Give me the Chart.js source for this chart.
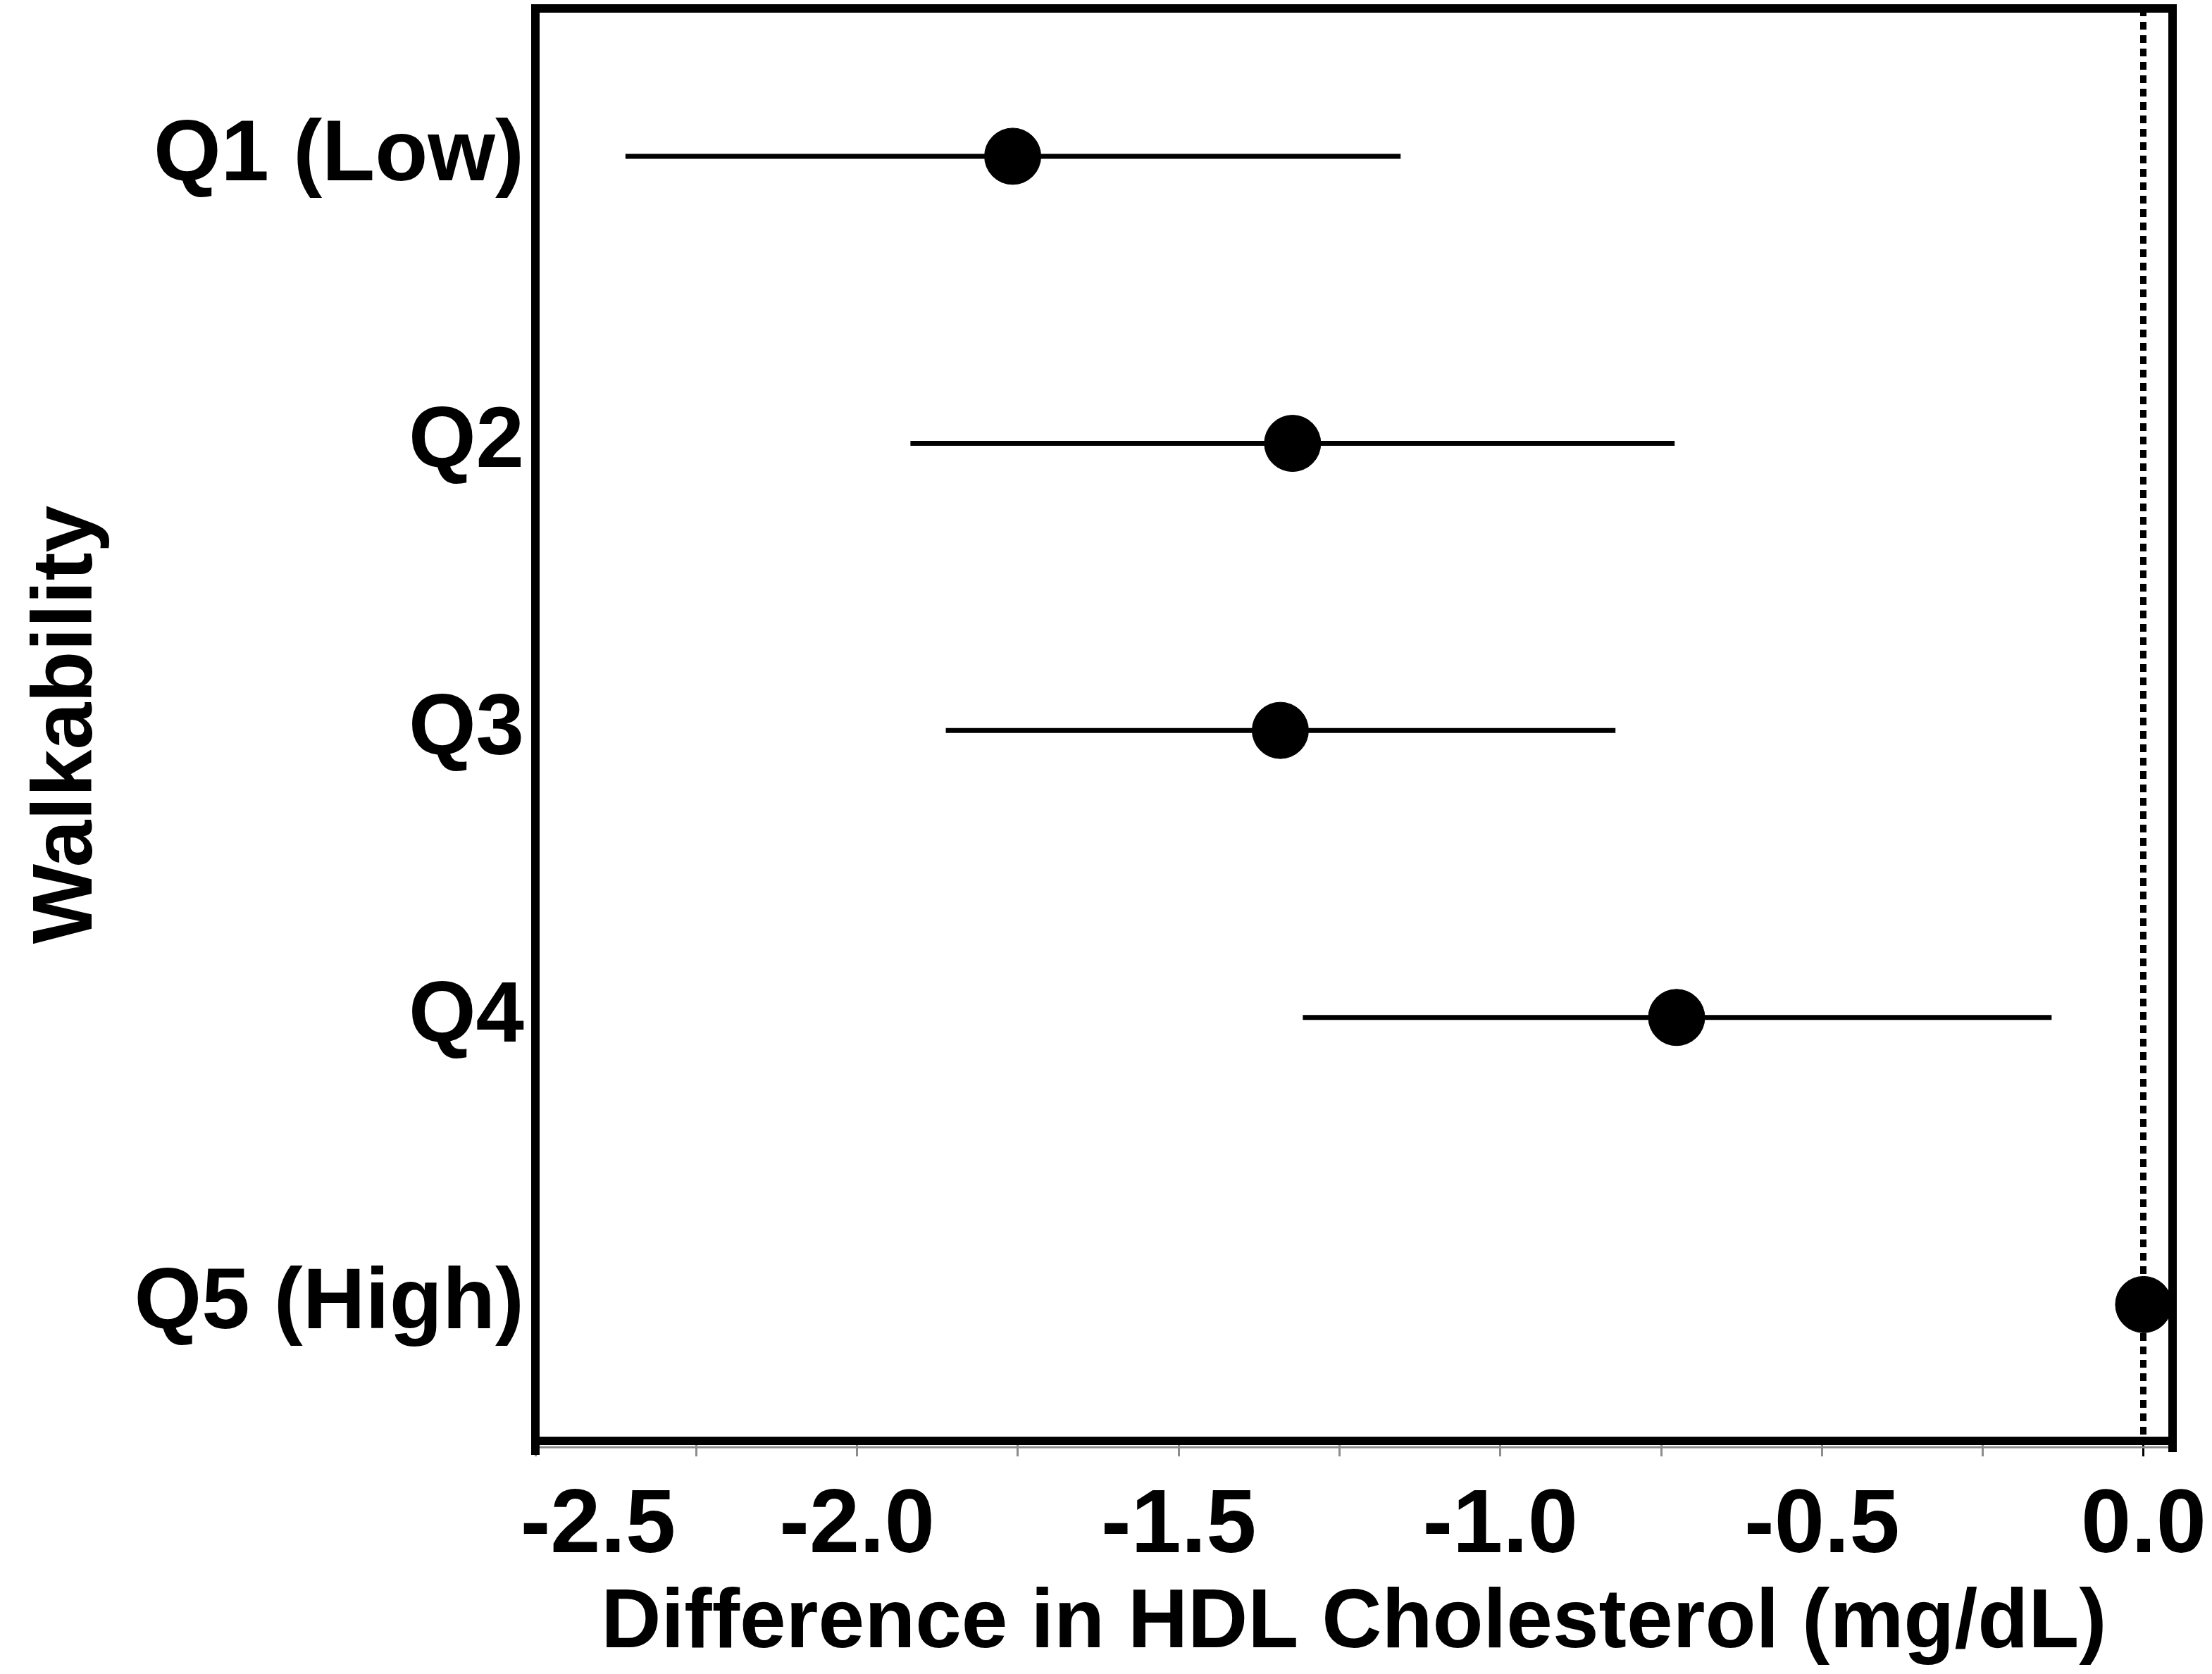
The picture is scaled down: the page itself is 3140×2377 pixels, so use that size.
<!DOCTYPE html>
<html>
<head>
<meta charset="utf-8">
<script src="https://cdn.jsdelivr.net/npm/chart.js@4"></script>
<style>
    html, body { margin: 0; padding: 0; background: #fff; }
    #wrap { width: 3140px; height: 2377px; }
</style>
</head>
<body>
<div id="wrap"><canvas id="walk-chart"></canvas></div>
<script>
// Walkability quintiles, top to bottom, difference in HDL vs Q5 (reference)
let categories = ["Q1 (Low)", "Q2", "Q3", "Q4", "Q5 (High)"];
let estimates = [-1.758, -1.323, -1.342, -0.726, 0];
let lowerCI = [-2.360, -1.917, -1.862, -1.307, null];
let upperCI = [-1.155, -0.729, -0.821, -0.143, null];
let xTicks = [-2.5, -2.25, -2.0, -1.75, -1.5, -1.25, -1.0, -0.75, -0.5, -0.25, 0];

let datasets = [];
for (let i = 0; i < categories.length; i++) {
    if (lowerCI[i] === null) continue;
    datasets.push({
        type: 'line',
        data: [{ x: lowerCI[i], y: i }, { x: upperCI[i], y: i }],
        borderColor: '#000',
        borderWidth: 7,
        pointRadius: 0,
        fill: false
    });
}
datasets.push({
    type: 'scatter',
    data: estimates.map(function (v, i) { return { x: v, y: i }; }),
    backgroundColor: '#000',
    borderColor: '#000',
    pointRadius: 40,
    pointHoverRadius: 40
});

// heavy box round the plot + grey baseline under it
let framePlugin = {
    id: 'frame',
    afterDraw: function (chart) {
        let ctx = chart.ctx;
        let a = chart.chartArea;
        ctx.save();
        ctx.strokeStyle = '#8c8c8c';
        ctx.lineWidth = 3;
        ctx.beginPath();
        ctx.moveTo(a.left, a.bottom + 9);
        ctx.lineTo(a.right, a.bottom + 9);
        ctx.stroke();
        ctx.strokeStyle = '#000';
        ctx.lineWidth = 12;
        ctx.strokeRect(a.left, a.top, a.right - a.left, a.bottom - a.top);
        ctx.beginPath();
        ctx.moveTo(a.left, a.bottom);
        ctx.lineTo(a.left, a.bottom + 20);
        ctx.moveTo(a.right, a.bottom);
        ctx.lineTo(a.right, a.bottom + 16);
        ctx.stroke();
        ctx.restore();
    }
};

let font = "'Liberation Sans', Arial, Helvetica, sans-serif";

new Chart(document.getElementById("walk-chart"), {
    type: 'scatter',
    data: { datasets: datasets },
    plugins: [framePlugin],
    options: {
        responsive: true,
        maintainAspectRatio: false,
        animation: false,
        layout: { autoPadding: false, padding: { top: 12, right: 56, bottom: 0, left: 0 } },
        plugins: {
            legend: { display: false },
            tooltip: { enabled: false }
        },
        scales: {
            x: {
                type: 'linear',
                position: 'bottom',
                min: -2.5,
                max: 0.045,
                afterBuildTicks: function (scale) {
                    scale.ticks = xTicks.map(function (v) { return { value: v }; });
                },
                afterFit: function (scale) {
                    scale.height = 331;
                    scale.paddingLeft = 0;
                    scale.paddingRight = 0;
                },
                border: { display: false, dash: [11, 8] },
                grid: {
                    color: function (c) {
                        return c.tick && c.tick.value === 0 ? '#000' : 'rgba(0,0,0,0)';
                    },
                    lineWidth: 9,
                    drawTicks: true,
                    tickLength: 22,
                    tickWidth: 3,
                    tickColor: function (c) {
                        return c.tick && c.tick.value === 0 ? '#000' : '#8c8c8c';
                    }
                },
                ticks: {
                    autoSkip: false,
                    maxRotation: 0,
                    padding: 24,
                    color: '#000',
                    font: { family: font, size: 128, weight: 'bold' },
                    callback: function (value) {
                        if (Math.abs(value * 2 - Math.round(value * 2)) > 1e-9) return '';
                        let s = value.toFixed(1);
                        if (value === xTicks[0]) s = '     ' + s;
                        return s;
                    }
                },
                title: {
                    display: true,
                    text: 'Difference in HDL Cholesterol (mg/dL)',
                    color: '#000',
                    padding: { top: 0, bottom: 0 },
                    font: { family: font, size: 118, weight: 'bold' }
                }
            },
            y: {
                type: 'linear',
                reverse: true,
                min: -0.515,
                max: 4.475,
                afterBuildTicks: function (scale) {
                    scale.ticks = categories.map(function (c, i) { return { value: i }; });
                },
                afterFit: function (scale) {
                    scale.width = 760;
                    scale.paddingTop = 0;
                    scale.paddingBottom = 0;
                },
                border: { display: false },
                grid: { display: false, drawTicks: false },
                ticks: {
                    autoSkip: false,
                    padding: 16,
                    color: '#000',
                    font: { family: font, size: 123, weight: 'bold' },
                    callback: function (value) { return categories[value]; }
                },
                title: {
                    display: true,
                    text: 'Walkability',
                    color: '#000',
                    padding: { top: 25, bottom: 0 },
                    font: { family: font, size: 120, weight: 'bold' }
                }
            }
        }
    }
});
</script>
</body>
</html>
